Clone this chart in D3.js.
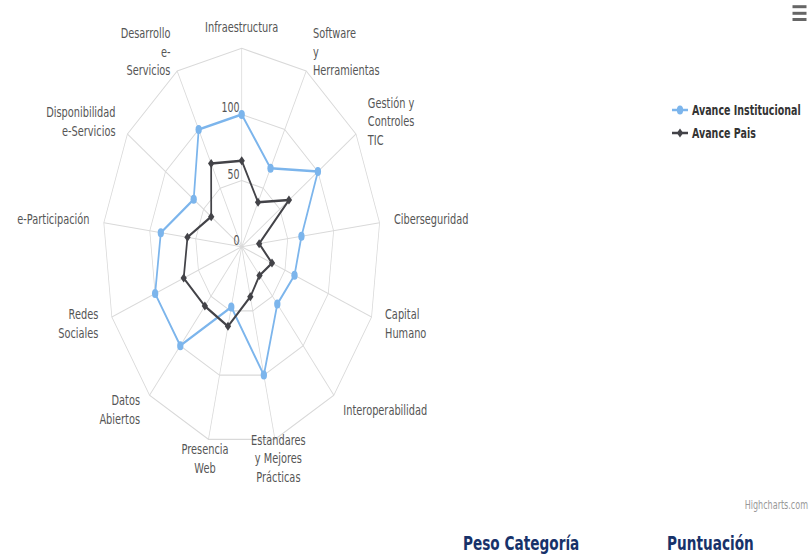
<!DOCTYPE html>
<html>
<head>
<meta charset="utf-8">
<script src="https://cdn.jsdelivr.net/npm/d3@7/dist/d3.min.js"></script>
<style>
  html, body { margin: 0; padding: 0; background: #fff; overflow: hidden; }
  svg { display: block; }
</style>
</head>
<body>
<svg id="chart" width="809" height="554"></svg>
<script>
// ---- data ----
const categories = [
  "Infraestructura",
  "Software\ny\nHerramientas",
  "Gestión y\nControles\nTIC",
  "Ciberseguridad",
  "Capital\nHumano",
  "Interoperabilidad",
  "Estandares\ny Mejores\nPrácticas",
  "Presencia\nWeb",
  "Datos\nAbiertos",
  "Redes\nSociales",
  "e-Participación",
  "Disponibilidad\ne-Servicios",
  "Desarrollo\ne-\nServicios"
];
const avanceInstitucional = [100, 67, 100, 65, 61, 58, 100, 47, 100, 100, 88, 63, 100];
const avancePais = [65, 38, 62, 19, 35, 29, 39, 62, 60, 67, 59, 40, 71];
const seriesNames = ["Avance Institucional", "Avance Pais"];
const yTicks = [0, 50, 100];
const yGrid = [50, 100, 150];
const yMax = 150;
const bottomTitles = ["Peso Categoría", "Puntuación"];

// ---- layout (picture is horizontally condensed) ----
const SX = 0.7;
const W = 809 / SX, H = 554;
const svg = d3.select("#chart")
  .attr("viewBox", `0 0 ${W} ${H}`)
  .attr("preserveAspectRatio", "none");

const cx = 241.7 / SX, cy = 246.7, R = 198.4;
const FONT = "'DejaVu Sans', sans-serif";
const n = categories.length;
const rScale = d3.scaleLinear().domain([0, yMax]).range([0, R]);
const aScale = d3.scaleLinear().domain([0, n]).range([0, 2 * Math.PI]);
const pt = (i, v) => {
  const a = aScale(i), r = rScale(v);
  return [cx + r * Math.sin(a), cy - r * Math.cos(a)];
};

const g = svg.append("g");
const GRID = "#d9d9d9";

// grid polygons
yGrid.forEach(v => {
  g.append("path")
    .attr("d", d3.line()(d3.range(n).map(i => pt(i, v))) + "Z")
    .attr("fill", "none").attr("stroke", GRID).attr("stroke-width", 1.1);
});
// spokes
d3.range(n).forEach(i => {
  const [x, y] = pt(i, yMax);
  g.append("line").attr("x1", cx).attr("y1", cy).attr("x2", x).attr("y2", y)
    .attr("stroke", GRID).attr("stroke-width", 1.1);
});

// y tick labels
yTicks.forEach(v => {
  g.append("text")
    .attr("x", cx - 3).attr("y", cy - rScale(v) - 2)
    .attr("text-anchor", "end")
    .attr("font-family", FONT).attr("font-size", 13.5).attr("fill", "#555")
    .text(v);
});

// category labels
const rl = 219, lh = 18.5;
categories.forEach((c, i) => {
  const a = aScale(i);
  const s = Math.sin(a);
  const x = cx + rl * s, y = cy - rl * Math.cos(a);
  const anchor = Math.abs(s) < 0.3 ? "middle" : (s > 0 ? "start" : "end");
  const lines = c.split("\n");
  const y0 = y - 1 - (lines.length - 1) * lh / 2 + 5;
  const t = g.append("text")
    .attr("text-anchor", anchor)
    .attr("font-family", FONT).attr("font-size", 14).attr("fill", "#555");
  lines.forEach((ln, k) => {
    t.append("tspan").attr("x", x).attr("y", y0 + k * lh).text(ln);
  });
});

// series
const colors = ["#7cb5ec", "#434348"];
const lineGen = d3.line();
[avanceInstitucional, avancePais].forEach((vals, si) => {
  const pts = vals.map((v, i) => pt(i, v));
  g.append("path").attr("d", lineGen(pts) + "Z")
    .attr("fill", "none").attr("stroke", colors[si]).attr("stroke-width", 2.5)
    .attr("stroke-linejoin", "round");
  pts.forEach(([x, y]) => {
    if (si === 0) {
      g.append("circle").attr("cx", x).attr("cy", y).attr("r", 4.5).attr("fill", colors[si]);
    } else {
      g.append("path").attr("d", `M${x},${y-4.5}L${x+4.5},${y}L${x},${y+4.5}L${x-4.5},${y}Z`)
        .attr("fill", colors[si]);
    }
  });
});

// legend
const lx0 = 672 / SX, lx1 = 688 / SX, ltx = 692 / SX;
[110, 133].forEach((ly, si) => {
  g.append("line").attr("x1", lx0).attr("x2", lx1).attr("y1", ly).attr("y2", ly)
    .attr("stroke", colors[si]).attr("stroke-width", 2.5);
  const mx = (lx0 + lx1) / 2;
  if (si === 0) g.append("circle").attr("cx", mx).attr("cy", ly).attr("r", 4.5).attr("fill", colors[si]);
  else g.append("path").attr("d", `M${mx},${ly-4.5}L${mx+4.5},${ly}L${mx},${ly+4.5}L${mx-4.5},${ly}Z`).attr("fill", colors[si]);
  g.append("text").attr("x", ltx).attr("y", ly + 5)
    .attr("font-family", FONT).attr("font-size", 13.6).attr("font-weight", "bold")
    .attr("fill", "#333").text(seriesNames[si]);
});

// menu icon
[6.7, 13.3, 19.5].forEach(y => {
  g.append("line").attr("x1", 792.5 / SX).attr("x2", 806.5 / SX).attr("y1", y).attr("y2", y)
    .attr("stroke", "#666").attr("stroke-width", 3);
});

// credits
g.append("text").attr("x", 808 / SX).attr("y", 509)
  .attr("text-anchor", "end")
  .attr("font-family", FONT).attr("font-size", 11.5).attr("fill", "#999")
  .text("Highcharts.com");

// bottom headings
[[463 / SX, bottomTitles[0]], [667 / SX, bottomTitles[1]]].forEach(([x, t]) => {
  g.append("text").attr("x", x).attr("y", 550.5)
    .attr("font-family", FONT).attr("font-size", 19.5).attr("font-weight", "bold")
    .attr("fill", "#17326a").text(t);
});
</script>
</body>
</html>
